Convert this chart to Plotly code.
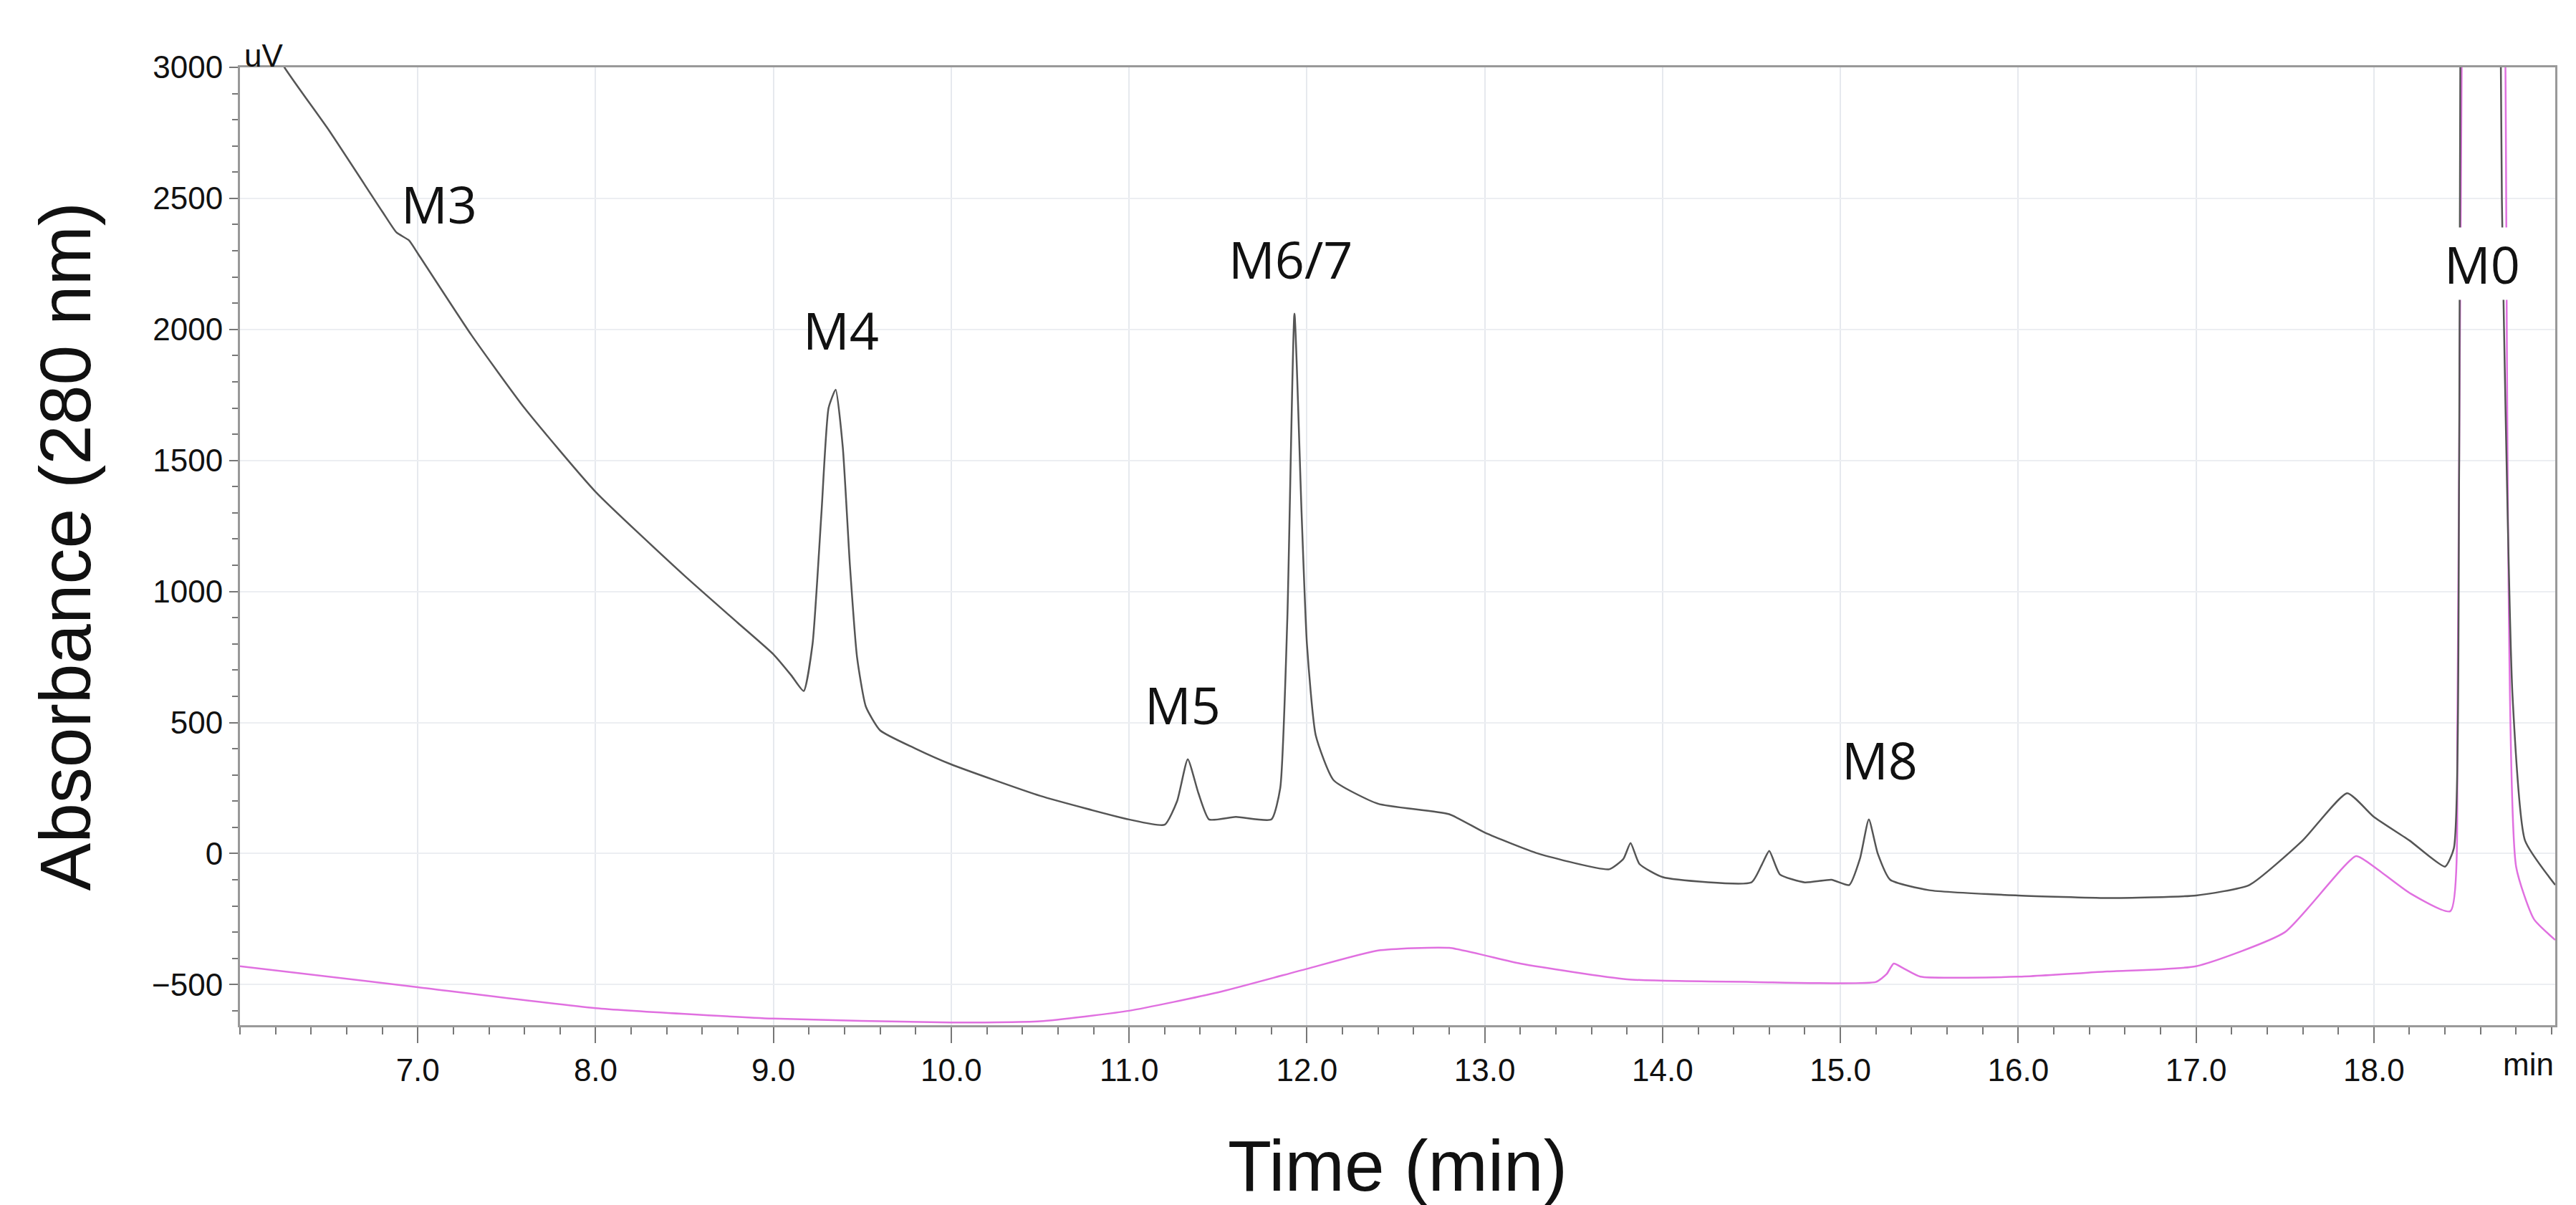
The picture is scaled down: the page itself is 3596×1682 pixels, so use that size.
import plotly.graph_objects as go

black_t = [6.0, 6.25, 6.5, 6.8, 6.88, 6.95, 7.0, 7.3, 7.6, 8.0, 8.5, 8.8, 9.0, 9.1, 9.17, 9.22, 9.27, 9.31, 9.35, 9.39, 9.43, 9.47, 9.52, 9.6, 9.8, 10.0, 10.5, 11.0, 11.2, 11.27, 11.33, 11.39, 11.45, 11.6, 11.8, 11.85, 11.89, 11.93, 11.97, 12.0, 12.05, 12.15, 12.4, 12.8, 13.0, 13.3, 13.7, 13.78, 13.82, 13.87, 14.0, 14.5, 14.56, 14.6, 14.66, 14.8, 14.95, 15.05, 15.11, 15.16, 15.21, 15.28, 15.5, 16.0, 16.5, 17.0, 17.3, 17.6, 17.85, 18.0, 18.2, 18.4, 18.45, 18.48, 18.52, 18.6, 18.68, 18.72, 18.78, 18.85, 19.02]
black_v = [3300, 3000, 2760, 2450, 2370, 2340, 2290, 1980, 1700, 1380, 1060, 880, 760, 680, 620, 800, 1300, 1700, 1770, 1550, 1100, 750, 560, 470, 400, 340, 220, 130, 110, 200, 360, 230, 130, 140, 130, 250, 900, 2060, 1300, 800, 450, 280, 190, 150, 80, 0, -60, -20, 40, -40, -90, -110, -40, 10, -80, -110, -100, -120, -20, 130, 0, -100, -140, -160, -170, -160, -120, 50, 230, 140, 50, -50, 20, 1500, 8000, 9000, 6000, 2500, 600, 50, -120]

pink_t = [6.0, 7.0, 8.0, 9.0, 10.0, 10.5, 11.0, 11.5, 12.0, 12.4, 12.8, 13.2, 13.8, 14.5, 15.2, 15.26, 15.3, 15.36, 15.45, 16.0, 16.5, 17.0, 17.5, 17.9, 18.0, 18.2, 18.43, 18.47, 18.52, 18.6, 18.7, 18.74, 18.8, 18.9, 19.02]
pink_v = [-430, -510, -590, -630, -645, -640, -600, -530, -440, -370, -360, -420, -480, -490, -490, -460, -420, -440, -470, -470, -450, -430, -300, -10, -50, -150, -220, 500, 6000, 9000, 7000, 3000, -50, -250, -330]

peak_labels = ["M3", "M4", "M5", "M6/7", "M8", "M0"]
peak_x = [7.12, 9.38, 11.3, 11.91, 15.22, 18.61]
peak_y = [2480, 2000, 570, 2270, 360, 2250]

x_ticks = [7.0, 8.0, 9.0, 10.0, 11.0, 12.0, 13.0, 14.0, 15.0, 16.0, 17.0, 18.0]
y_ticks = [-500, 0, 500, 1000, 1500, 2000, 2500, 3000]

fig = go.Figure()
fig.add_trace(go.Scatter(x=pink_t, y=pink_v, mode="lines", line=dict(color="#e070e0", width=2.5, shape="spline", smoothing=0.5)))
fig.add_trace(go.Scatter(x=black_t, y=black_v, mode="lines", line=dict(color="#555555", width=2.5, shape="spline", smoothing=0.5)))

tickfont = dict(family="Liberation Sans Narrow, Arial Narrow, Liberation Sans, sans-serif", size=44, color="#111")
fig.update_xaxes(range=[6.0, 19.02], tickvals=x_ticks, ticktext=[f"{v:.1f}" for v in x_ticks],
                 showgrid=True, gridcolor="#e6e9ee", gridwidth=1.5, showline=True, linecolor="#999", linewidth=3,
                 mirror=True, ticks="outside", ticklen=22, tickcolor="#777", tickwidth=2, tickfont=tickfont,
                 minor=dict(dtick=0.2, ticks="outside", ticklen=10, tickcolor="#777", showgrid=False),
                 zeroline=False)
fig.update_yaxes(range=[-655, 3000], tickvals=y_ticks, showgrid=True, gridcolor="#eceef2", gridwidth=1.5,
                 showline=True, linecolor="#999", linewidth=3, mirror=True, ticks="outside", ticklen=12,
                 tickcolor="#777", tickwidth=2, tickfont=tickfont,
                 minor=dict(dtick=100, ticks="outside", ticklen=8, tickcolor="#777", showgrid=False),
                 zeroline=False)

labfont = dict(family="Open Sans, Liberation Sans, sans-serif", size=72, color="#111")
for t, x, y in zip(peak_labels, peak_x, peak_y):
    fig.add_annotation(x=x, y=y, text=t, showarrow=False, font=labfont,
                       bgcolor="white" if t == "M0" else "rgba(0,0,0,0)")

fig.add_annotation(xref="paper", yref="paper", x=0, y=1, text="uV", showarrow=False,
                   xanchor="left", yanchor="bottom", yshift=-10, xshift=4, font=tickfont)
fig.add_annotation(xref="paper", yref="paper", x=1, y=0, text="min", showarrow=False,
                   xanchor="right", yanchor="top", yshift=-28, font=tickfont)
fig.add_annotation(xref="paper", yref="paper", x=0.5, y=0, text="Time (min)", showarrow=False,
                   yanchor="middle", yshift=-196, font=dict(family="Liberation Sans, Arial, sans-serif", size=100, color="#111"))
fig.add_annotation(xref="paper", yref="paper", x=0, y=0.5, text="Absorbance (280 nm)", showarrow=False,
                   textangle=-90, xanchor="center", xshift=-245, font=dict(family="Liberation Sans, Arial, sans-serif", size=100, color="#111"))

fig.update_layout(width=3596, height=1682, margin=dict(l=327, r=37, t=86, b=259),
                  plot_bgcolor="white", paper_bgcolor="white", showlegend=False)
fig.write_html("out.html")
